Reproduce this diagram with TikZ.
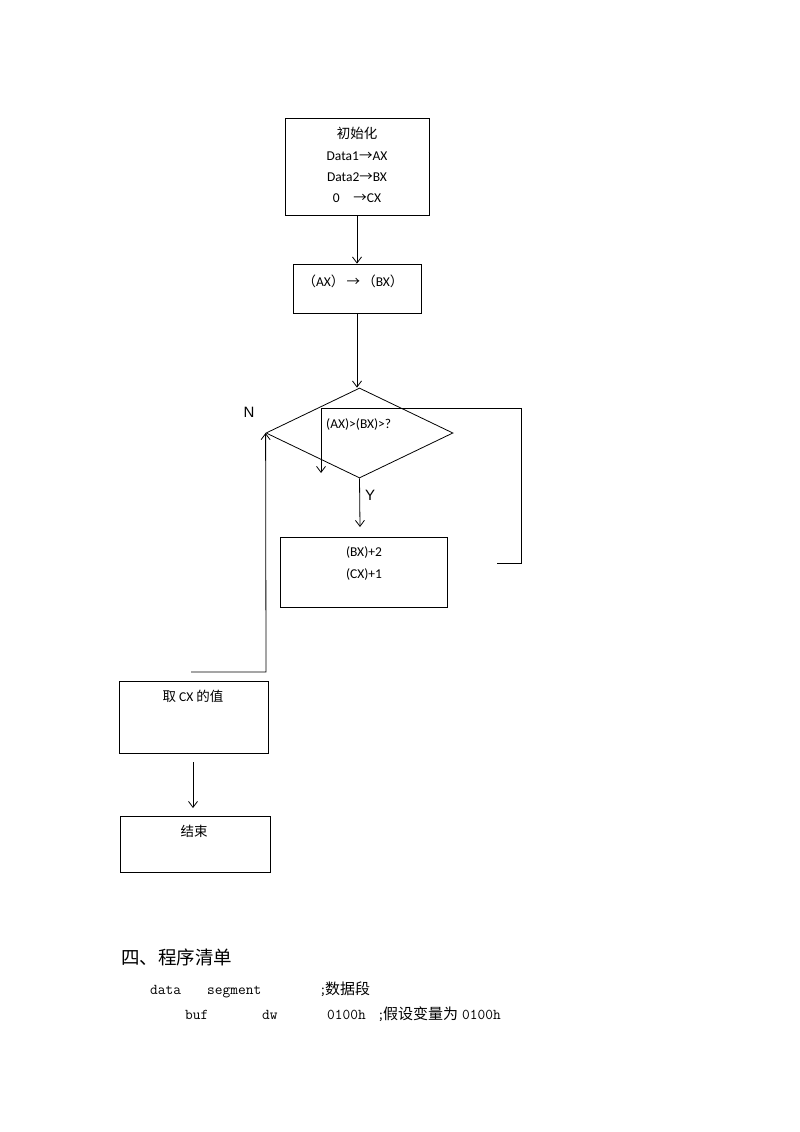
\documentclass[tikz,border=0pt]{standalone}
\usepackage{fontspec}
\setmainfont{Carlito}
\newfontfamily\cjk{Noto Sans CJK SC}
\newfontfamily\lsans{Liberation Sans}
\usetikzlibrary{arrows.meta,shapes.geometric}
\begin{document}
\begin{tikzpicture}[x=1pt,y=-1pt,
  box/.style={draw, line width=0.8pt, inner sep=0pt},
  txt/.style={inner sep=0pt, font=\fontsize{13.5}{16}\selectfont},
  lbl/.style={inner sep=0pt, font=\lsans\fontsize{15}{18}\selectfont},
  conn/.style={line width=0.8pt},
  arr/.style={conn, -{Straight Barb[length=6pt,width=9pt]}},
  code/.style={inner sep=0pt, anchor=base west, font=\ttfamily\fontsize{15}{17}\selectfont},
  ccode/.style={inner sep=0pt, anchor=base west, font=\cjk\fontsize{15}{17}\selectfont}]
\useasboundingbox[fill=white] (0,0) rectangle (800,1132);

% boxes
\node[box, minimum width=144, minimum height=97] (b1) at (357,166.5) {};
\node[txt] (t11) at (357,133) {\cjk 初始化};
\node[txt] (t12) at (357,156) {Data1{\cjk →}AX};
\node[txt] (t13) at (357,177) {Data2{\cjk →}BX};
\node[txt] (t14) at (357,198) {0\quad{\cjk →}CX};

\node[box, minimum width=128, minimum height=49] (b2) at (357,288.5) {};
\node[txt] (t2) at (353,281) {{\cjk （}AX{\cjk ）}\,{\cjk →}\,{\cjk （}BX{\cjk ）}};

\node[draw, diamond, line width=0.8pt, inner sep=0pt, minimum width=187, minimum height=90] (dia) at (359.5,433) {};
\node[txt, anchor=west] (t3) at (326,424) {(AX)>(BX)>?};

\node[box, minimum width=167, minimum height=70] (b3) at (363.5,572) {};
\node[txt] (t31) at (364,552) {(BX)+2};
\node[txt] (t32) at (364,574) {(CX)+1};

\node[box, minimum width=149, minimum height=72] (b4) at (193.5,717) {};
\node[txt] (t4) at (193,696) {{\cjk 取} CX {\cjk 的值}};

\node[box, minimum width=150, minimum height=56] (b5) at (195,844) {};
\node[txt] (t5) at (194,831) {\cjk 结束};

\node[lbl] (N) at (249,412) {N};
\node[lbl] (Y) at (370,495) {Y};

% coordinates
\coordinate (lp) at (321,408);
\coordinate (lpe) at (321,473);
\coordinate (r1) at (521,408);
\coordinate (r2) at (521,563);
\coordinate (r3) at (497,563);
\coordinate (l0) at (191,672);
\coordinate (l1) at (266,672);
\coordinate (d3) at (360,527);
\coordinate (a4s) at (193,762);
\coordinate (a4e) at (193,808);

% connectors
\draw[arr] (b1.south) -- (b2.north);
\draw[arr] (b2.south) -- (b2.south |- dia.north);
\draw[arr] (dia.south) -- (d3);
\draw[conn] (lp) -- (r1) -- (r2) -- (r3);
\draw[arr] (lp) -- (lpe);
\draw[arr] (l0) -- (l1) -- (dia.west);
\draw[arr] (a4s) -- (a4e);

% listing text
\node[inner sep=0pt, anchor=west, font=\cjk\fontsize{18.5}{20}\selectfont] (h) at (121,957) {四、程序清单};
\node[code] (c1) at (150,994) {data};
\node[code] (c2) at (207,994) {segment};
\node[code] (c3) at (319,994) {;};
\node[ccode] (c4) at (325,994) {数据段};
\node[code] (c5) at (185,1019) {buf};
\node[code] (c6) at (262,1019) {dw};
\node[code] (c7) at (327,1019) {0100h};
\node[code] (c8) at (377,1019) {;};
\node[ccode] (c9) at (383,1019) {假设变量为};
\node[code] (c10) at (462,1019) {0100h};
\end{tikzpicture}
\end{document}
